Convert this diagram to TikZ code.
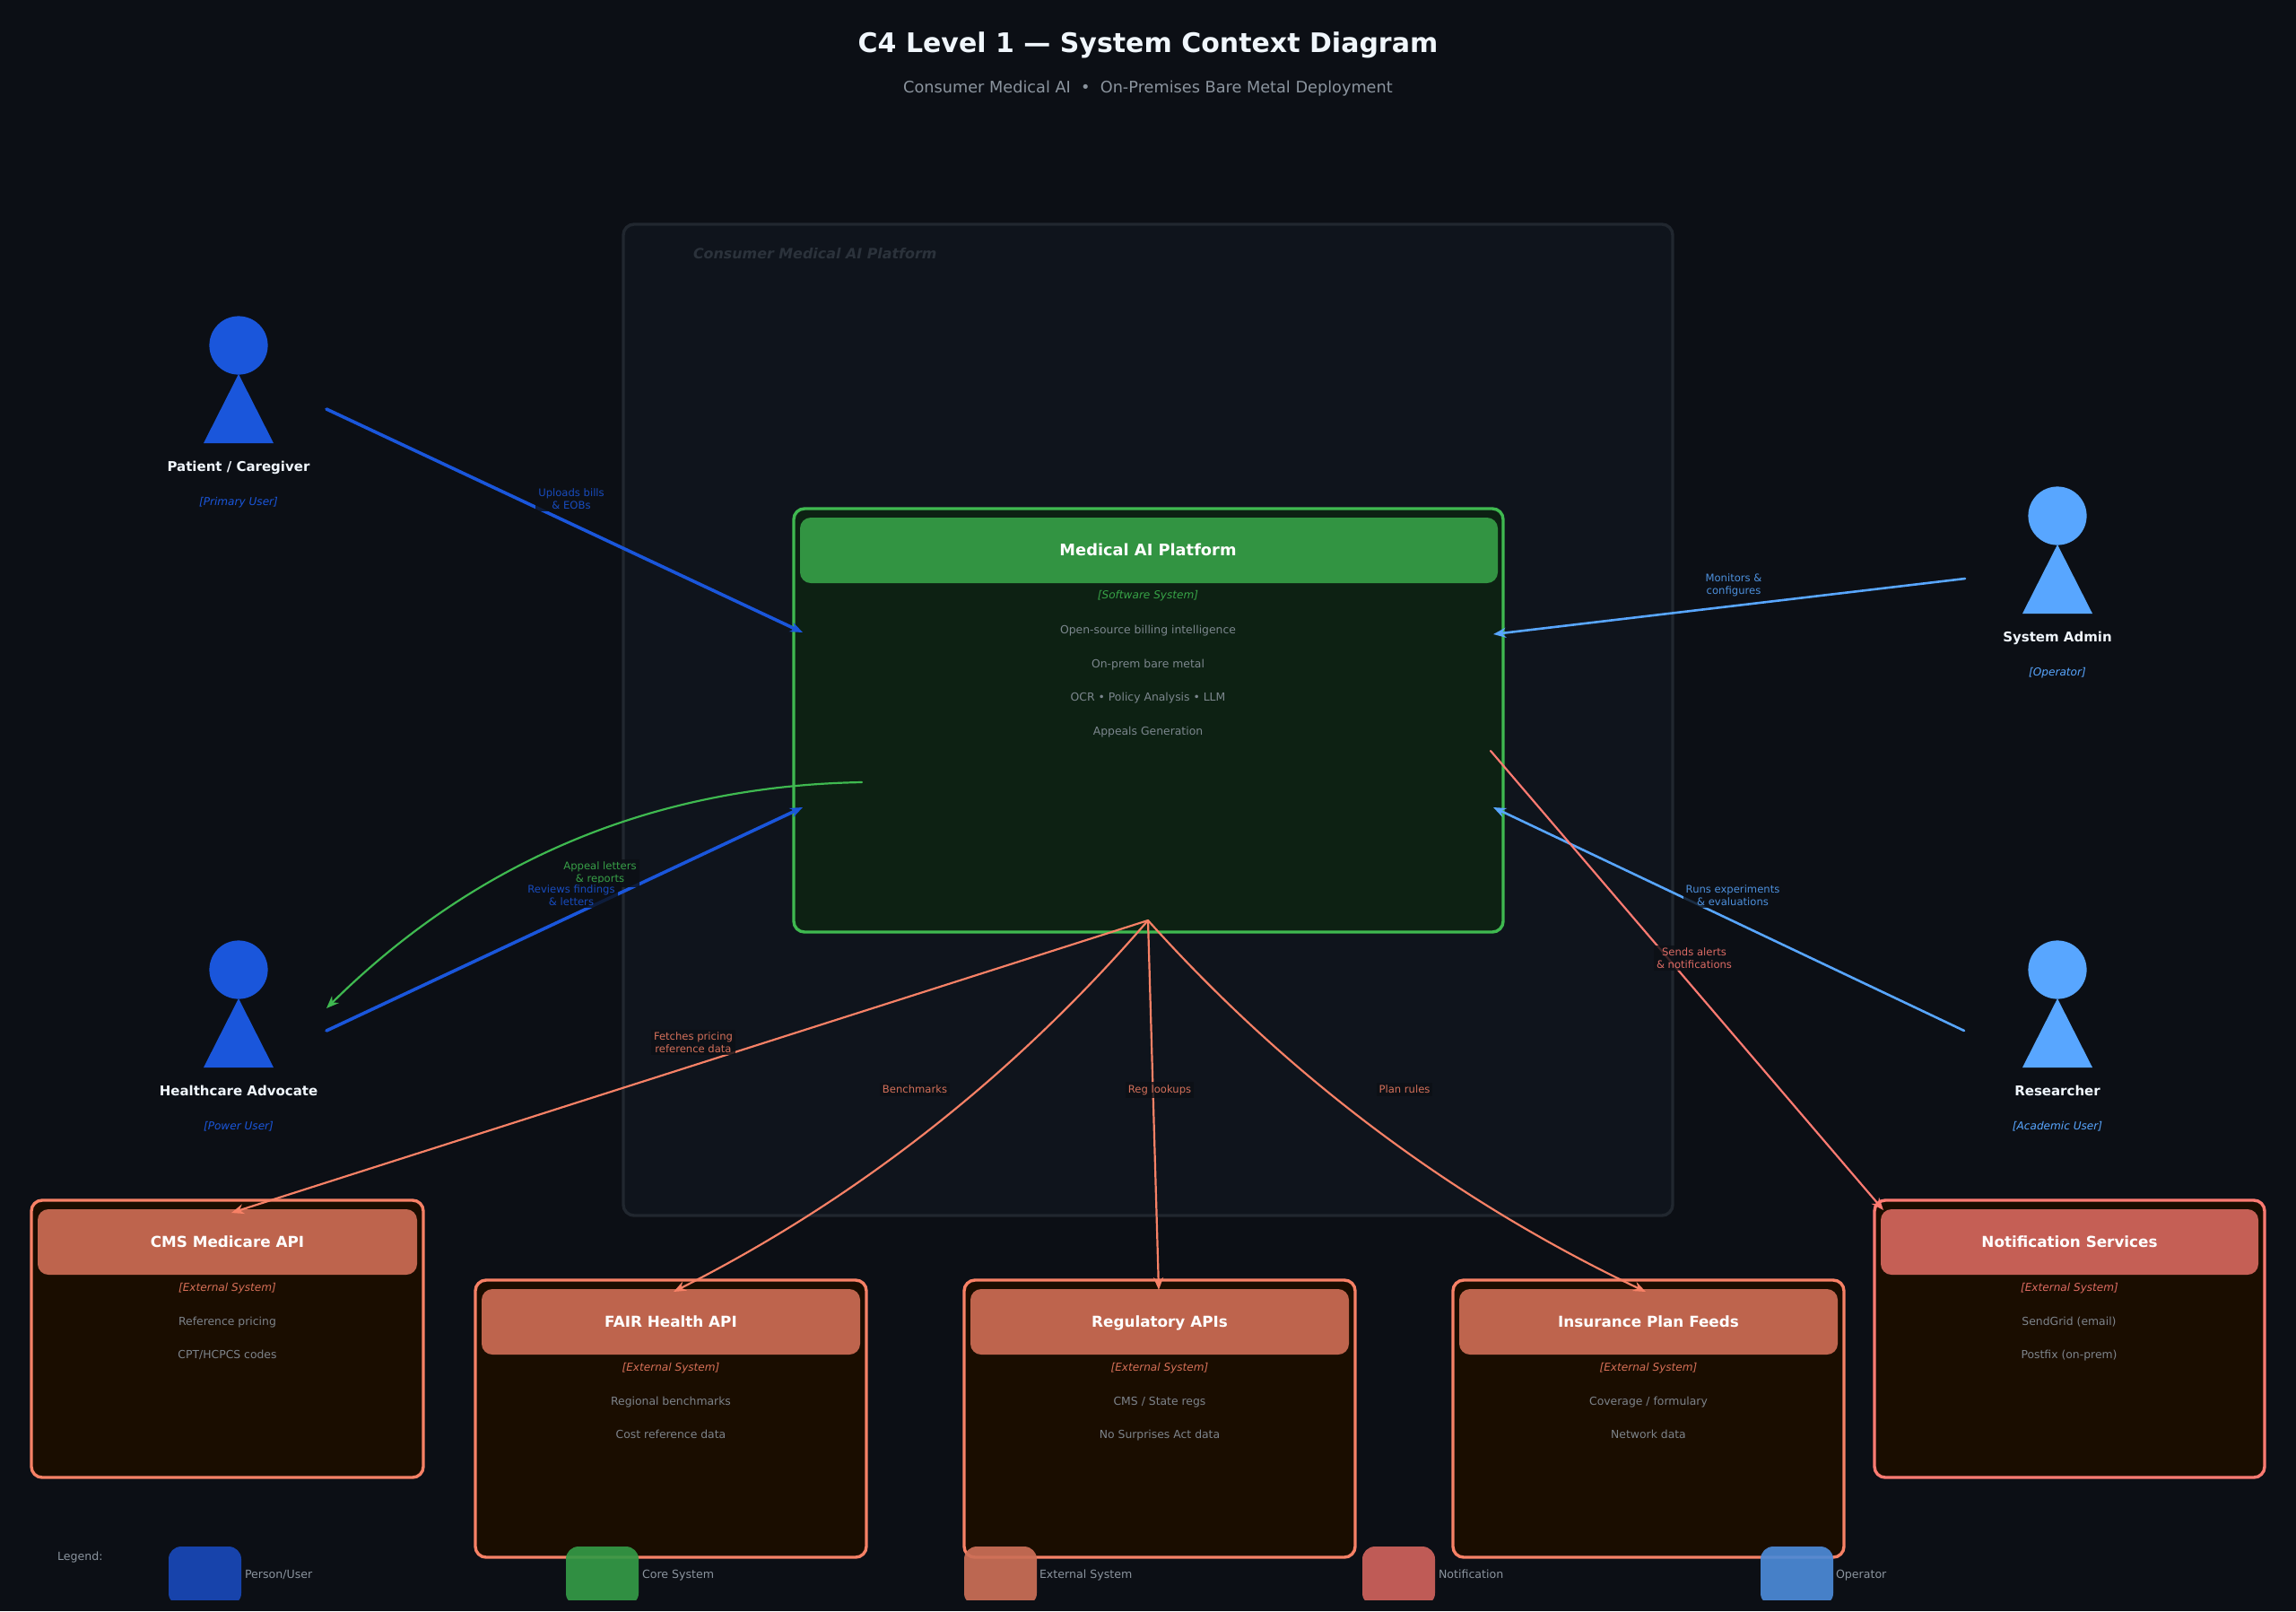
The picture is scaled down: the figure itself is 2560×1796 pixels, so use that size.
\documentclass[tikz,border=0pt]{standalone}
\usepackage{fontspec}
\setmainfont{DejaVu Sans}
\usetikzlibrary{arrows.meta}
\definecolor{bgc}{HTML}{0C0F15}
\definecolor{contf}{HTML}{0F141C}
\definecolor{contl}{HTML}{21272F}
\definecolor{contt}{HTML}{2B323B}
\definecolor{usr}{HTML}{1A56DB}
\definecolor{opr}{HTML}{58A6FF}
\definecolor{core}{HTML}{3FB950}
\definecolor{corehd}{HTML}{329442}
\definecolor{corebd}{HTML}{0D2113}
\definecolor{ext}{HTML}{F78166}
\definecolor{exthd}{HTML}{BE644D}
\definecolor{extbd}{HTML}{1A0D00}
\definecolor{ntf}{HTML}{FF7B72}
\definecolor{ntfhd}{HTML}{C55F55}
\definecolor{gry}{HTML}{8B949E}
\definecolor{ttl}{HTML}{F0F6FC}
\definecolor{sa}{HTML}{1848B8}
\definecolor{sb}{HTML}{349A46}
\definecolor{sc}{HTML}{CC6F57}
\definecolor{sd}{HTML}{CF625C}
\definecolor{se}{HTML}{4C8AD8}
\tikzset{
  x=0.5pt,y=-0.5pt,
  every node/.style={outer sep=0pt},
  fixedline/.style={text height=7.6pt,text depth=2.4pt},
  box/.style={draw,line width=1.7pt,rounded corners=6pt,inner sep=0pt,anchor=north west},
  hdr/.style={rounded corners=6pt,inner sep=0pt,anchor=north west},
  hdrtext/.style={fixedline,text=white,font=\fontsize{8.9}{10}\selectfont\bfseries,inner sep=0pt},
  exthdrtext/.style={fixedline,text=white,font=\fontsize{8.4}{10}\selectfont\bfseries,inner sep=0pt},
  roletext/.style={fixedline,font=\fontsize{6.05}{7}\selectfont\itshape,inner sep=0pt},
  desctext/.style={fixedline,text=gry,text opacity=.88,font=\fontsize{6.2}{7}\selectfont,inner sep=0pt},
  persontext/.style={fixedline,text=ttl,font=\fontsize{7.5}{8}\selectfont\bfseries,inner sep=0pt},
  edgetext/.style={font=\fontsize{5.8}{6.9}\selectfont,align=center,inner sep=1.5pt,fill=bgc,fill opacity=.8,text opacity=.85},
  legtext/.style={fixedline,text=gry,font=\fontsize{6.3}{7}\selectfont,inner sep=0pt,anchor=west},
  swatch/.style={rounded corners=7pt,inner sep=0pt,anchor=north west,minimum width=40.5pt,minimum height=33pt,fill opacity=.92},
  conn/.style={-{Stealth[length=7pt,width=5.5pt]},line cap=round},
  heavy/.style={conn,line width=1.8pt},
  medium/.style={conn,line width=1.3pt},
  light/.style={conn,line width=1.1pt},
}
\newcommand{\extbox}[9]{% name x y w h colour header title ...
  \node[box,draw=#6,fill=extbd,minimum width=#4*0.5pt,minimum height=#5*0.5pt] (#1) at (#2,#3) {};
  \node[hdr,fill=#7,minimum width=(#4-14)*0.5pt,minimum height=36.5pt] (#1h) at (#2+7,#3+10) {};
  \node[exthdrtext] (#1t) at (#2+#4/2,#3+47) {#8};
  \node[roletext,text=#6,text opacity=.85] (#1r) at (#2+#4/2,#3+96) {[External System]};
  #9
}
\newcommand{\person}[6]{% name x y colour label role
  \fill[#4] (#2-39,#3+109) -- (#2,#3+32) -- (#2+39,#3+109) -- cycle;
  \node[circle,fill=#4,inner sep=0pt,minimum size=32.6pt] (#1) at (#2,#3) {};
  \node[persontext] (#1l) at (#2,#3+135.5) {#5};
  \node[roletext,text=#4] (#1r) at (#2,#3+173) {#6};
}
\begin{document}
\begin{tikzpicture}
\useasboundingbox (0,0) rectangle (2560,1796);
\fill[bgc] (0,0) rectangle (2560,1796);
\node[fixedline,text=ttl,font=\fontsize{15}{17}\selectfont\bfseries,inner sep=0pt] (title) at (1280,53) {C4 Level 1 — System Context Diagram};
\node[fixedline,text=gry,font=\fontsize{8.85}{11}\selectfont,inner sep=0pt] (subtitle) at (1280,98.5) {Consumer Medical AI \ • \ On-Premises Bare Metal Deployment};
% container
\node[box,draw=contl,fill=contf,minimum width=585pt,minimum height=552.5pt] (cont) at (695,250) {};
\node[fixedline,text=contt,font=\fontsize{7.95}{9}\selectfont\bfseries\itshape,inner sep=0pt,anchor=west] (contlabel) at (773,283.5) {Consumer Medical AI Platform};
% core
\node[box,draw=core,fill=corebd,minimum width=395.5pt,minimum height=236pt] (core) at (885,567) {};
\node[hdr,fill=corehd,minimum width=389pt,minimum height=36.5pt] (coreh) at (892,577) {};
\node[hdrtext] (coret) at (1280,614) {Medical AI Platform};
\node[roletext,text=core,text opacity=.85] (corer) at (1280,662.5) {[Software System]};
\node[desctext] (cored1) at (1280,701) {Open-source billing intelligence};
\node[desctext] (cored2) at (1280,739) {On-prem bare metal};
\node[desctext] (cored3) at (1280,776.5) {OCR • Policy Analysis • LLM};
\node[desctext] (cored4) at (1280,814.5) {Appeals Generation};
% persons
\person{pat}{266}{385}{usr}{Patient / Caregiver}{[Primary User]}
\person{adm}{2294}{575}{opr}{System Admin}{[Operator]}
\person{adv}{266}{1081}{usr}{Healthcare Advocate}{[Power User]}
\person{res}{2294}{1081}{opr}{Researcher}{[Academic User]}
% external boxes
\extbox{cms}{35}{1338}{437}{309}{ext}{exthd}{CMS Medicare API}{
  \node[desctext] (cmsa) at (253.5,1472.5) {Reference pricing};
  \node[desctext] (cmsb) at (253.5,1509.5) {CPT/HCPCS codes};}
\extbox{fair}{530}{1427}{436}{309}{ext}{exthd}{FAIR Health API}{
  \node[desctext] (faira) at (748,1561) {Regional benchmarks};
  \node[desctext] (fairb) at (748,1598.5) {Cost reference data};}
\extbox{reg}{1075}{1427}{436}{309}{ext}{exthd}{Regulatory APIs}{
  \node[desctext] (rega) at (1293,1561) {CMS / State regs};
  \node[desctext] (regb) at (1293,1598.5) {No Surprises Act data};}
\extbox{ins}{1620}{1427}{436}{309}{ext}{exthd}{Insurance Plan Feeds}{
  \node[desctext] (insa) at (1838,1561) {Coverage / formulary};
  \node[desctext] (insb) at (1838,1598.5) {Network data};}
\extbox{ntf}{2090}{1338}{435}{309}{ntf}{ntfhd}{Notification Services}{
  \node[desctext] (ntfa) at (2307,1472.5) {SendGrid (email)};
  \node[desctext] (ntfb) at (2307,1509.5) {Postfix (on-prem)};}
% connector ends
\coordinate (patout) at (364,456);
\coordinate (corein1) at (895,705);
\coordinate (advout) at (364,1149);
\coordinate (corein2) at (895,900);
\coordinate (coreout1) at (961,872);
\coordinate (advin) at (364,1124);
\coordinate (admout) at (2191,645);
\coordinate (corein3) at (1665,707);
\coordinate (resout) at (2190,1149);
\coordinate (corein4) at (1665,900);
\coordinate (coreout2) at (1662,837);
\coordinate (ntfin) at (2100,1349);
\coordinate (hub) at (1280,1026);
\coordinate (cmsin) at (258,1352);
\coordinate (fairin) at (751,1440);
\coordinate (regin) at (1292,1438);
\coordinate (insin) at (1835,1440);
% connectors
\draw[heavy,usr] (patout) -- (corein1);
\draw[heavy,usr] (advout) -- (corein2);
\draw[light,core] (coreout1) .. controls (729,876) and (531,959) .. (advin);
\draw[medium,opr] (admout) -- (corein3);
\draw[medium,opr] (resout) -- (corein4);
\draw[light,ntf] (coreout2) -- (ntfin);
\draw[light,ext] (hub) -- (cmsin);
\draw[light,ext] (hub) .. controls (1131,1199) and (955,1337) .. (fairin);
\draw[light,ext] (hub) -- (regin);
\draw[light,ext] (hub) .. controls (1437,1201) and (1622,1339) .. (insin);
% connector labels
\node[edgetext,text=usr] (luploads) at (637,556) {Uploads bills\\\& EOBs};
\node[edgetext,text=opr] (lmon) at (1933,652) {Monitors \&\\configures};
\node[edgetext,text=core] (lappeal) at (669,973) {Appeal letters\\\& reports};
\node[edgetext,text=usr] (lreview) at (637,998) {Reviews findings\\\& letters};
\node[edgetext,text=opr] (lruns) at (1932,998) {Runs experiments\\\& evaluations};
\node[edgetext,text=ntf] (lsends) at (1889,1068) {Sends alerts\\\& notifications};
\node[edgetext,text=ext] (lfetch) at (773,1162) {Fetches pricing\\reference data};
\node[edgetext,text=ext] (lbench) at (1020,1214) {Benchmarks};
\node[edgetext,text=ext] (lreg) at (1293,1215) {Reg lookups};
\node[edgetext,text=ext] (lplan) at (1566,1214) {Plan rules};
% legend
\node[legtext] (legend) at (64,1734) {Legend:};
\begin{scope}
\clip (0,0) rectangle (2560,1783);
\node[swatch,fill=sa] (sw1) at (188,1724) {};
\node[swatch,fill=sb] (sw2) at (631,1724) {};
\node[swatch,fill=sc] (sw3) at (1075,1724) {};
\node[swatch,fill=sd] (sw4) at (1519,1724) {};
\node[swatch,fill=se] (sw5) at (1963,1724) {};
\end{scope}
\node[legtext] (sl1) at (273,1754.5) {Person/User};
\node[legtext] (sl2) at (716,1754.5) {Core System};
\node[legtext] (sl3) at (1159,1754.5) {External System};
\node[legtext] (sl4) at (1604,1754.5) {Notification};
\node[legtext] (sl5) at (2047,1754.5) {Operator};
\end{tikzpicture}
\end{document}
